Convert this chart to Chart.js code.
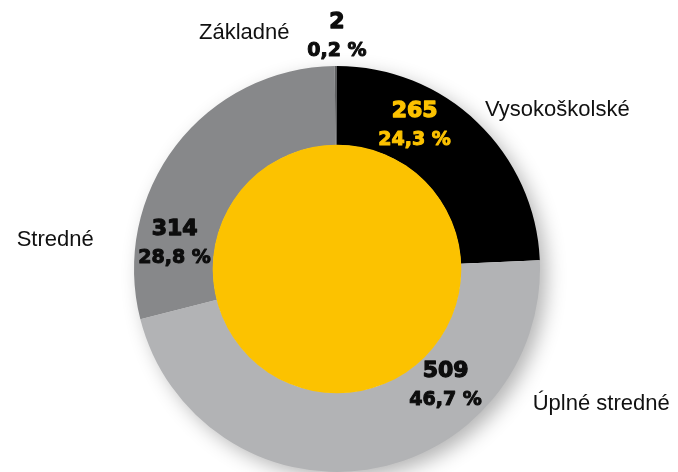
<!DOCTYPE html>
<html>
<head>
<meta charset="utf-8">
<script src="https://cdn.jsdelivr.net/npm/chart.js@4/dist/chart.umd.min.js"></script>
<style>
  html, body { margin: 0; padding: 0; background: #ffffff; }
  #wrap { width: 678px; height: 472px; position: relative; }
</style>
</head>
<body>
<div id="wrap"><canvas id="c" width="678" height="472"></canvas></div>
<script>
// ---- data ----
const categories = ['Vysokoškolské', 'Úplné stredné', 'Stredné', 'Základné'];
const counts = [265, 509, 314, 2];
const percentLabels = ['24,3 %', '46,7 %', '28,8 %', '0,2 %'];

// ---- styles ----
const sliceColors = ['#000000', '#b2b3b5', '#87888a', '#5e5f61'];
const valueColors = ['#fcc200', '#0d0d0d', '#0d0d0d', '#0d0d0d'];
const centerColor = '#fcc200';
// label anchors as offsets from the doughnut centre (px)
const valueOffsets = [[77.6, -151.7], [108.6, 108.3], [-162.4, -34], [0, -240.7]];
const nameOffsets = [[148, -153], [195.7, 141], [-320.3, -23], [-138, -229.7]];

const decorPlugin = {
  id: 'decor',
  beforeDatasetsDraw(chart) {
    const arc = chart.getDatasetMeta(0).data[0];
    const ctx = chart.ctx;
    ctx.save();
    ctx.shadowColor = 'rgba(0,0,0,0.30)';
    ctx.shadowBlur = 20;
    ctx.shadowOffsetX = 7;
    ctx.shadowOffsetY = 7;
    ctx.fillStyle = '#ffffff';
    ctx.beginPath();
    ctx.arc(arc.x, arc.y, arc.outerRadius - 1, 0, Math.PI * 2);
    ctx.fill();
    ctx.restore();
  },
  afterDatasetsDraw(chart) {
    const meta = chart.getDatasetMeta(0);
    const arc = meta.data[0];
    const ctx = chart.ctx;
    ctx.save();
    ctx.fillStyle = centerColor;
    ctx.beginPath();
    ctx.arc(arc.x, arc.y, arc.innerRadius + 0.5, 0, Math.PI * 2);
    ctx.fill();

    ctx.textBaseline = 'alphabetic';
    ctx.lineJoin = 'round';
    categories.forEach((name, i) => {
      const vx = arc.x + valueOffsets[i][0];
      const vy = arc.y + valueOffsets[i][1];
      ctx.fillStyle = valueColors[i];
      ctx.strokeStyle = valueColors[i];
      ctx.textAlign = 'center';
      ctx.font = 'bold 22px "DejaVu Sans"';
      ctx.lineWidth = 1.3;
      ctx.fillText(String(counts[i]), vx, vy);
      ctx.strokeText(String(counts[i]), vx, vy);
      ctx.font = 'bold 19px "DejaVu Sans"';
      ctx.lineWidth = 1.0;
      ctx.fillText(percentLabels[i], vx, vy + 28);
      ctx.strokeText(percentLabels[i], vx, vy + 28);

      ctx.fillStyle = '#111111';
      ctx.textAlign = 'left';
      ctx.font = '22px "Liberation Sans", Arial, sans-serif';
      ctx.fillText(name, arc.x + nameOffsets[i][0], arc.y + nameOffsets[i][1]);
    });
    ctx.restore();
  }
};

new Chart(document.getElementById('c'), {
  type: 'doughnut',
  data: {
    labels: categories,
    datasets: [{
      data: counts,
      backgroundColor: sliceColors,
      borderWidth: 0
    }]
  },
  options: {
    responsive: false,
    animation: false,
    cutout: '61%',
    rotation: 0,
    layout: { padding: { top: 66, bottom: 0, left: 0, right: 4 } },
    plugins: {
      legend: { display: false },
      tooltip: { enabled: false }
    }
  },
  plugins: [decorPlugin]
});
</script>
</body>
</html>
